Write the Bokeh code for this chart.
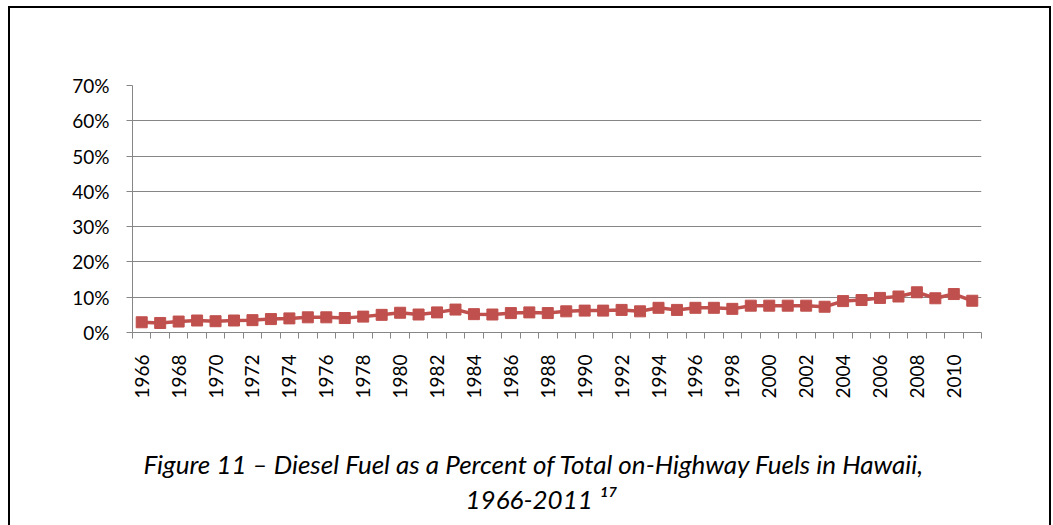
import math
from bokeh.plotting import figure
from bokeh.models import (Range1d, FixedTicker, PrintfTickFormatter, Title, LinearAxis,
                          CustomJSTickFormatter)
from bokeh.embed import file_html
from bokeh.resources import INLINE

years = list(range(1966, 2012))
diesel_pct = [2.9, 2.7, 3.1, 3.4, 3.2, 3.4, 3.5, 3.8, 4.0, 4.3,
              4.3, 4.1, 4.5, 5.0, 5.6, 5.1, 5.7, 6.5, 5.2, 5.1,
              5.5, 5.7, 5.5, 6.0, 6.2, 6.2, 6.4, 6.0, 7.0, 6.4,
              7.0, 7.0, 6.7, 7.6, 7.6, 7.6, 7.6, 7.3, 8.9, 9.2,
              9.8, 10.2, 11.4, 9.7, 10.9, 9.0]
y_ticks = [0, 10, 20, 30, 40, 50, 60, 70]
x_label_years = years[::2]
caption_line1 = "Figure 11 \u2013 Diesel Fuel as a Percent of Total on-Highway Fuels in Hawaii,"
caption_line2 = "1966-2011 \u00b9\u2077"

GRAY = "#868686"
RED = "#C0504D"
FONT = "Lato"

W, H = 1053, 525
FL, FR, FT, FB = 132, 981, 85, 332   # frame edges in pixels

border_css = """
:host { position: relative; }
:host::after {
  content: "";
  position: absolute;
  left: 8px; top: 6px;
  width: 1043px; height: 519px;
  box-sizing: border-box;
  border-left: 2px solid black;
  border-top: 2px solid black;
  border-right: 2px solid black;
  pointer-events: none;
}
"""

X0, X1 = years[0] - 0.5, years[-1] + 0.5

p = figure(width=W, height=H, output_backend="svg", toolbar_location=None,
           x_range=Range1d(X0, X1),
           y_range=Range1d(y_ticks[0], y_ticks[-1]),
           min_border_left=FL, min_border_right=W - FR, min_border_top=FT, min_border_bottom=H - FB,
           stylesheets=[border_css])
p.outline_line_color = None
p.background_fill_color = "white"
p.border_fill_color = "white"

p.xgrid.visible = False
p.ygrid.ticker = FixedTicker(ticks=y_ticks)
p.ygrid.grid_line_color = GRAY
p.ygrid.grid_line_width = 1

ya = p.yaxis[0]
ya.ticker = FixedTicker(ticks=y_ticks)
ya.formatter = PrintfTickFormatter(format="%d%%")
ya.axis_line_color = GRAY
ya.major_tick_line_color = GRAY
ya.major_tick_out = 6
ya.major_tick_in = 0
ya.minor_tick_line_color = None
ya.major_label_standoff = 17
ya.major_label_text_font = FONT
ya.major_label_text_font_size = "19px"
ya.major_label_text_color = "black"

xa = p.xaxis[0]
xa.ticker = FixedTicker(ticks=x_label_years,
                        minor_ticks=[y - 0.5 for y in years] + [years[-1] + 0.5])
xa.axis_line_color = GRAY
xa.major_tick_line_color = None
xa.major_tick_out = 0
xa.major_tick_in = 0
xa.minor_tick_line_color = GRAY
xa.minor_tick_out = 6
xa.minor_tick_in = 0
xa.major_label_orientation = math.pi / 2
xa.major_label_standoff = 16
xa.major_label_text_font = FONT
xa.major_label_text_font_size = "19px"
xa.major_label_text_color = "black"

p.line(years, diesel_pct, line_color=RED, line_width=3.5)
p.scatter(years, diesel_pct, marker="square", size=11, fill_color=RED, line_color=RED)

# blank axis used only as vertical spacing between the tick labels and the caption
spacer = LinearAxis(ticker=FixedTicker(ticks=[X0]), axis_line_color=None,
                    major_tick_line_color="white", minor_tick_line_color=None,
                    major_tick_out=39, major_tick_in=0, minor_tick_out=0, minor_tick_in=0,
                    major_label_standoff=0,
                    formatter=CustomJSTickFormatter(code="return ''"))
p.add_layout(spacer, "below")

t1 = Title(text=caption_line1, align="left", offset=11, standoff=10,
           text_font=FONT, text_font_style="italic", text_font_size="26px",
           text_color="black")
t2 = Title(text=caption_line2, align="left", offset=333, standoff=-7,
           text_font=FONT, text_font_style="italic", text_font_size="26px",
           text_color="black")
p.add_layout(t1, "below")
p.add_layout(t2, "below")

open("out.html", "w").write(file_html(p, INLINE))
